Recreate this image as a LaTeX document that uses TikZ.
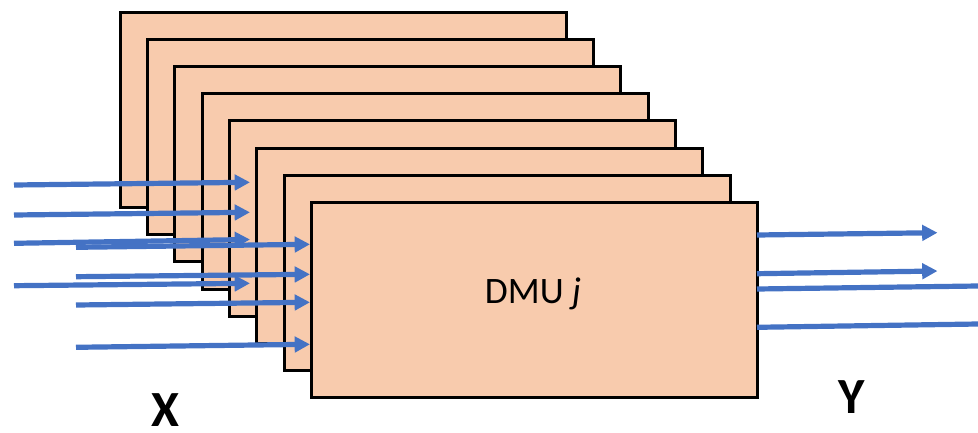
\documentclass[tikz,border=0pt]{standalone}
\usepackage{fontspec}
\setmainfont{Carlito}
\usetikzlibrary{arrows.meta}
\definecolor{unitfill}{HTML}{F8CBAD}
\definecolor{flowblue}{HTML}{4472C4}
\begin{document}
\begin{tikzpicture}[x=0.75pt,y=-0.75pt,
  unitbox/.style={draw=black,fill=unitfill,line width=2.25pt,inner sep=0pt,
    minimum width=334.5pt,minimum height=146.6pt,anchor=north west},
  flow/.style={draw=flowblue,line width=3.9pt,
    -{Triangle[length=11.5pt,width=11.5pt]}},
  flowline/.style={draw=flowblue,line width=3.9pt},
  axislabel/.style={font=\fontsize{38}{40}\selectfont\bfseries,inner sep=0pt,anchor=base}]
\useasboundingbox (0,0) rectangle (978,432);
% stack of decision making units, back to front
\foreach \i in {0,...,7}{
  \node[unitbox] (u\i) at ({118.5+27.36*\i},{10.5+27.2*\i}) {};
}
\node[anchor=base,font=\fontsize{28}{30}\selectfont] (lbl) at (533,303) {DMU {\itshape j}};
% inputs entering the rear units
\coordinate (a1s) at (14,185);   \coordinate (a1e) at (250,182.3);
\coordinate (a2s) at (14,215);   \coordinate (a2e) at (250,212.3);
\coordinate (a3s) at (14,243.3); \coordinate (a3e) at (250,239.5);
\coordinate (a4s) at (14,285.7); \coordinate (a4e) at (250,283.3);
% inputs entering the front unit
\coordinate (b1s) at (76,247.3); \coordinate (b1e) at (310,244.3);
\coordinate (b2s) at (76,276.7); \coordinate (b2e) at (310,274.3);
\coordinate (b3s) at (76,305);   \coordinate (b3e) at (310,302.3);
\coordinate (b4s) at (76,347.3); \coordinate (b4e) at (310,344.3);
% outputs
\coordinate (c1s) at (757,235);   \coordinate (c1e) at (937.5,232.7);
\coordinate (c2s) at (757,273.7); \coordinate (c2e) at (937.5,271);
\coordinate (c3s) at (757,289);   \coordinate (c3e) at (978,286);
\coordinate (c4s) at (757,327.3); \coordinate (c4e) at (978,324);
\foreach \k in {1,...,4}{
  \draw[flow] (a\k s) -- (a\k e);
}
\foreach \k in {1,...,4}{
  \draw[flow] (b\k s) -- (b\k e);
}
\draw[flow] (c1s) -- (c1e);
\draw[flow] (c2s) -- (c2e);
\draw[flowline] (c3s) -- (c3e);
\draw[flowline] (c4s) -- (c4e);
% input and output labels
\node[axislabel] (xl) at (165,426.5) {X};
\node[axislabel] (yl) at (851.5,413.5) {Y};
\end{tikzpicture}
\end{document}
